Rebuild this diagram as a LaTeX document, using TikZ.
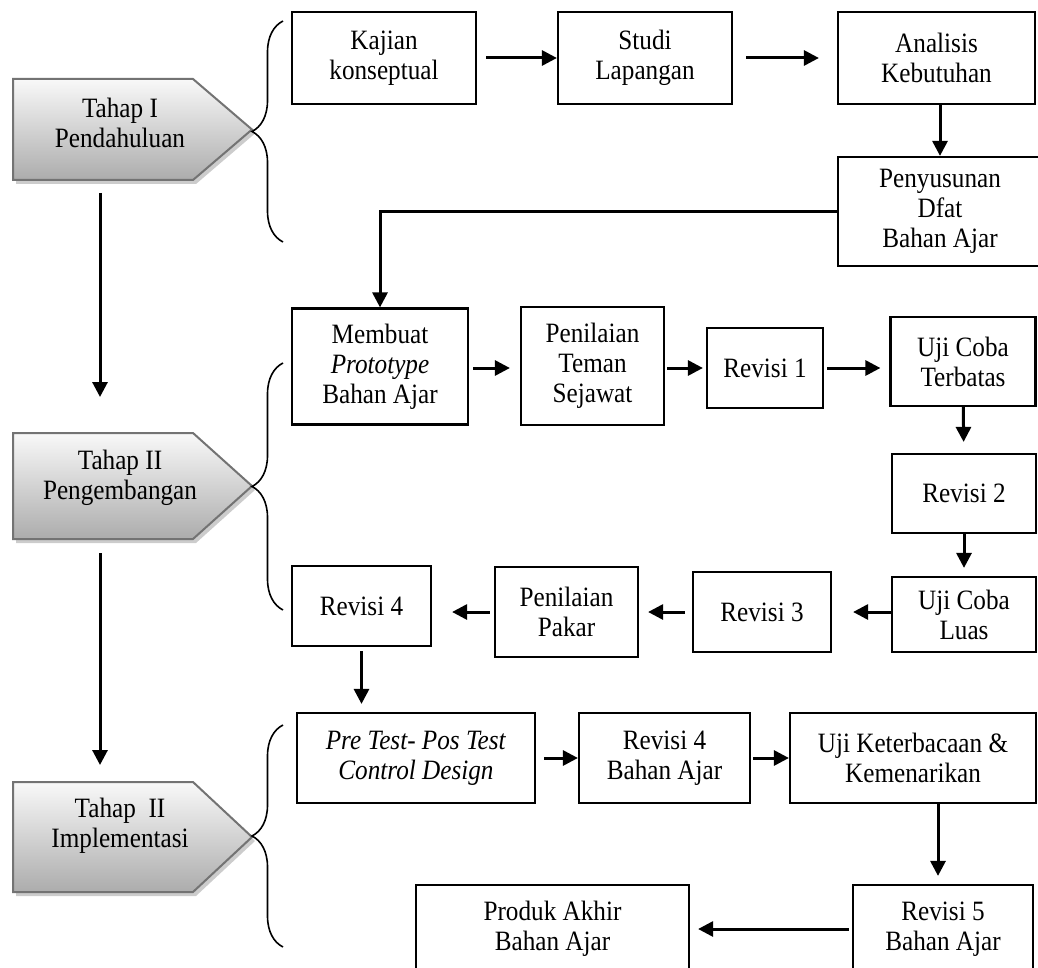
\documentclass[tikz,border=0pt]{standalone}
\usepackage{fontspec}
\setmainfont{Liberation Serif}[FakeStretch=0.9]
\usetikzlibrary{calc, arrows.meta, decorations.pathreplacing}

\tikzset{
  kotak/.style={draw, line width=1.1pt, align=center, inner sep=0pt, font=\fontsize{14}{15}\selectfont},
  ukuran/.style 2 args={minimum width=#1*0.5pt, minimum height=#2*0.5pt},
  panah/.style={-{Triangle[length=7.5pt,width=7.5pt]}, line width=1.5pt},
  kurung/.style={decorate, decoration={brace, amplitude=15.5pt}, line width=0.8pt},
  tahapteks/.style={align=center, font=\fontsize{14}{15}\selectfont},
}

\begin{document}
\begin{tikzpicture}[x=0.5pt, y=-0.5pt]
      \useasboundingbox (0,0) rectangle (1038,968);
      \clip (0,0) rectangle (1038,968);

      % tahap (pentagon kiri)
      \foreach \atas/\bawah [count=\i] in {79/180, 433/539, 782/892}{
        \fill[gray!40] (16,{\atas+4}) -- (196,{\atas+4}) -- (255,{(\atas+\bawah)/2+4}) -- (196,{\bawah+4}) -- (16,{\bawah+4}) -- cycle;
        \shade[top color=gray!5, bottom color=gray!65, draw=black!55, line width=1pt]
          (13,\atas) -- (193,\atas) -- (252,{(\atas+\bawah)/2}) -- (193,\bawah) -- (13,\bawah) -- cycle;
        \coordinate (atas\i) at (100,\atas);
        \coordinate (bawah\i) at (100,\bawah);
      }
      \node[tahapteks] (tahap1) at (120,123) {Tahap I\\Pendahuluan};
      \node[tahapteks] (tahap2) at (120,478) {Tahap II\\Pengembangan};
      \node[tahapteks] (tahap3) at (120,826) {Tahap\ \ II\\Implementasi};

      \draw[panah, shorten <=6.5pt, shorten >=18pt] (bawah1) -- (atas2);
      \draw[panah, shorten <=7pt, shorten >=8.5pt] (bawah2) -- (atas3);

      % kurung kurawal
      \draw[kurung] (283,242) -- (283,21);
      \draw[kurung] (283,610) -- (283,363);
      \draw[kurung] (283,947) -- (283,725);

      % tahap I
      \node[kotak, ukuran={184}{92}] (kajian) at (384,58) {Kajian\\konseptual};
      \node[kotak, ukuran={174}{92}] (studi) at (645,58) {Studi\\Lapangan};
      \node[kotak, ukuran={197}{92}] (analisis) at (936.5,58) {Analisis\\Kebutuhan};
      \node[kotak, ukuran={204}{109}] (penyusunan) at (940,211.5) {Penyusunan\\Dfat\\Bahan Ajar};

      % tahap II
      \node[kotak, ukuran={176}{116}] (membuat) at (380,366.5) {Membuat\\\textit{Prototype}\\Bahan Ajar};
      \node[kotak, ukuran={143}{118}] (teman) at (592.5,366) {Penilaian\\Teman\\Sejawat};
      \node[kotak, ukuran={116}{80}] (revisi1) at (765,368) {Revisi 1};
      \node[kotak, ukuran={145}{89}] (terbatas) at (963,361.5) {Uji Coba\\Terbatas};
      \node[kotak, ukuran={144}{79}] (revisi2) at (964,493.5) {Revisi 2};
      \node[kotak, ukuran={144}{75}] (luas) at (964,614.5) {Uji Coba\\Luas};
      \node[kotak, ukuran={138}{80}] (revisi3) at (762,612) {Revisi 3};
      \node[kotak, ukuran={143}{90}] (pakar) at (566.5,612) {Penilaian\\Pakar};
      \node[kotak, ukuran={139}{80}] (revisi4) at (361.5,606) {Revisi 4};

      % tahap III
      \node[kotak, ukuran={238}{90}] (pretest) at (416,758) {\textit{Pre Test- Pos Test}\\\textit{Control Design}};
      \node[kotak, ukuran={171}{90}] (revisi4ba) at (664.5,758) {Revisi 4\\Bahan Ajar};
      \node[kotak, ukuran={246}{90}] (ujibaca) at (913,758) {Uji Keterbacaan \&\\Kemenarikan};
      \node[kotak, ukuran={180}{88}] (revisi5) at (943,929) {Revisi 5\\Bahan Ajar};
      \node[kotak, ukuran={273}{88}] (produk) at (552.5,929) {Produk Akhir\\Bahan Ajar};
      \coordinate (garis5) at (938,0);

      % panah
      \draw[panah, shorten <=4.5pt] (kajian) -- (studi);
      \draw[panah, shorten <=6.5pt, shorten >=9pt] (studi) -- (analisis);
      \draw[panah] (analisis.south -| penyusunan) -- (penyusunan.north);
      \draw[panah] (penyusunan.west) -| (membuat.north);

      \draw[panah, shorten <=2pt, shorten >=5pt] (membuat.east |- revisi1) -- (teman.west |- revisi1);
      \draw[panah, shorten <=1pt, shorten >=1.5pt] (teman.east |- revisi1) -- (revisi1.west);
      \draw[panah, shorten <=1.5pt, shorten >=4.5pt] (revisi1.east) -- (revisi1.east -| terbatas.west);
      \draw[panah, shorten >=5.5pt] (terbatas) -- (revisi2);
      \draw[panah, shorten >=4pt] (revisi2) -- (luas);
      \draw[panah, shorten >=10.5pt] (luas.west |- revisi3) -- (revisi3.east);
      \draw[panah, shorten <=3.5pt, shorten >=4.5pt] (revisi3) -- (pakar);
      \draw[panah, shorten <=2pt, shorten >=10pt] (pakar.west) -- (pakar.west -| revisi4.east);
      \draw[panah, shorten <=2pt, shorten >=4pt] (revisi4.south) -- (revisi4.south |- pretest.north);

      \draw[panah, shorten <=4pt] (pretest) -- (revisi4ba);
      \draw[panah, shorten <=1pt] (revisi4ba) -- (ujibaca);
      \draw[panah, shorten >=4pt] (ujibaca.south -| garis5) -- (revisi5.north -| garis5);
      \draw[panah, shorten <=1.5pt, shorten >=4pt] (revisi5) -- (produk);
\end{tikzpicture}
\end{document}
